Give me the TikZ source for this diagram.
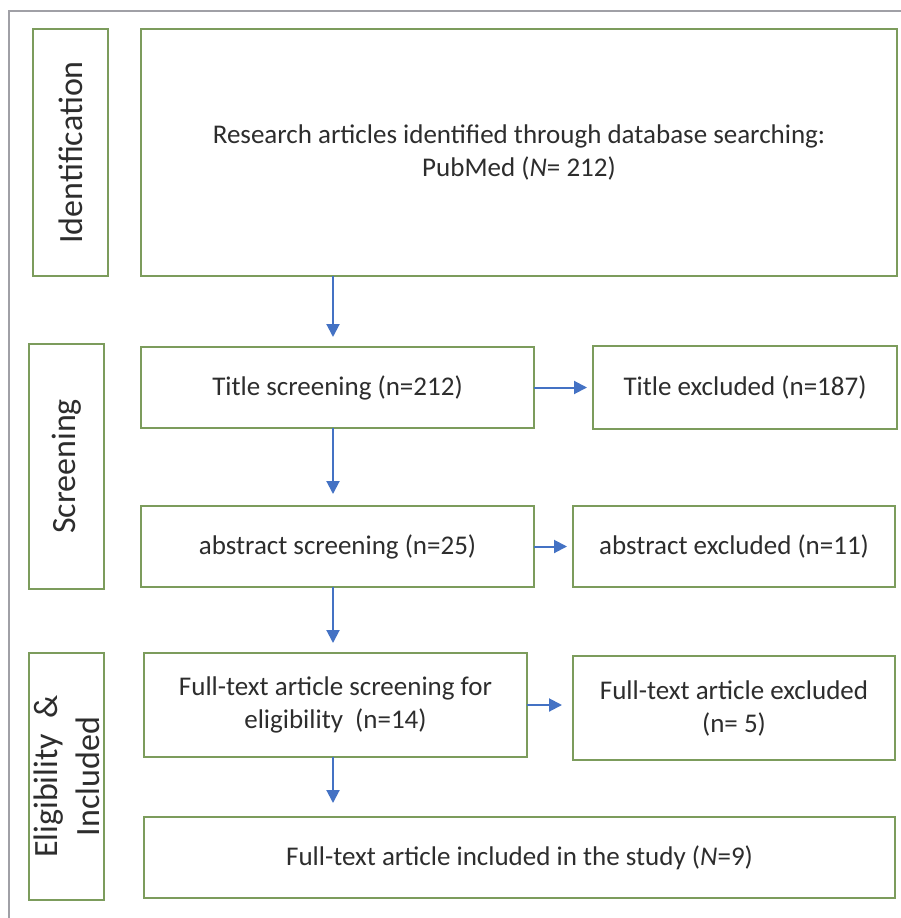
\documentclass[tikz,border=0pt]{standalone}
\usepackage{fontspec}
\setmainfont{Carlito}
\usetikzlibrary{arrows.meta}
\definecolor{boxgreen}{RGB}{124,156,92}
\definecolor{arrowblue}{RGB}{68,114,196}
\definecolor{txtgray}{RGB}{45,45,45}
\definecolor{framegray}{RGB}{160,160,166}
\tikzset{
  stepbox/.style={draw=boxgreen, line width=2pt, fill=white, inner sep=0pt, outer sep=0pt,
    text=txtgray, align=center, font=\fontsize{27}{33}\selectfont},
  phasebox/.style={stepbox, rotate=90, font=\fontsize{34}{42}\selectfont},
  flowarrow/.style={draw=arrowblue, line width=2pt, -{Triangle[length=13pt,width=13pt]}},
}
\begin{document}
\begin{tikzpicture}[x=1pt, y=-1pt]
\useasboundingbox (0,0) rectangle (901,918);
\fill[white] (0,0) rectangle (901,918);
\draw[framegray, line width=2pt] (9,918) -- (9,11) -- (901,11);

% phase labels
\node[phasebox, minimum width=247pt, minimum height=75pt] (ident) at (70.5,152.5) {Identification};
\node[phasebox, minimum width=245pt, minimum height=75pt] (screen) at (66.5,466.5) {Screening};
\node[phasebox, minimum width=247pt, minimum height=75pt] (elig) at (66.5,776.5) {Eligibility~ \&\\Included};

% steps
\node[stepbox, minimum width=756pt, minimum height=247pt] (research) at (519,152.5)
  {Research articles identified through database searching:\\PubMed (\textit{N}= 212)};
\node[stepbox, minimum width=393pt, minimum height=81pt] (title) at (337.5,387.5) {Title screening (n=212)};
\node[stepbox, minimum width=304pt, minimum height=83pt] (titleex) at (745,387.5) {Title excluded (n=187)};
\node[stepbox, minimum width=393pt, minimum height=81pt] (abs) at (337.5,546.5) {abstract screening (n=25)};
\node[stepbox, minimum width=322pt, minimum height=81pt] (absex) at (734,546.5) {abstract excluded (n=11)};
\node[stepbox, minimum width=383pt, minimum height=104pt] (full) at (335.5,705) {Full-text article screening for\\eligibility~ (n=14)};
\node[stepbox, minimum width=322pt, minimum height=104pt] (fullex) at (734,708) {Full-text article excluded\\(n= 5)};
\node[stepbox, minimum width=751pt, minimum height=81pt] (incl) at (519.5,857.5) {Full-text article included in the study (\textit{N}=9)};

% connectors
\coordinate (col) at (333,0);
\draw[flowarrow, shorten >=10pt] (research.south -| col) -- (title.north -| col);
\draw[flowarrow, shorten >=12pt] (title.south -| col) -- (abs.north -| col);
\draw[flowarrow, shorten >=10pt] (abs.south -| col) -- (full.north -| col);
\draw[flowarrow, shorten >=14pt] (full.south -| col) -- (incl.north -| col);
\draw[flowarrow, shorten >=6pt] (title.east) -- (title.east -| titleex.west);
\draw[flowarrow, shorten >=6pt] (abs.east) -- (abs.east -| absex.west);
\draw[flowarrow, shorten >=11pt] (full.east) -- (full.east -| fullex.west);
\end{tikzpicture}
\end{document}
